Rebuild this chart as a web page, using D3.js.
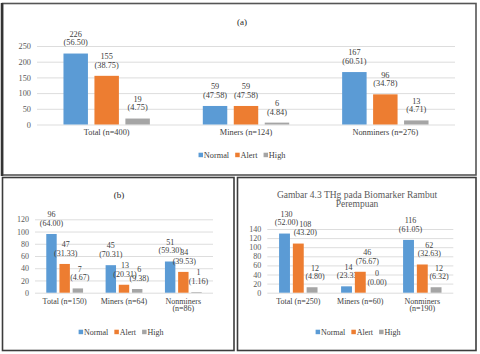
<!DOCTYPE html>
<html>
<head>
<meta charset="utf-8">
<script src="https://cdn.jsdelivr.net/npm/d3@7"></script>
<style>
	body { margin: 0; background: #fff; }
	svg text { font-family: "Liberation Serif", "Times New Roman", serif; }
</style>
</head>
<body>
<div id="chart"></div>
<script>
	// series names and colours
	var seriesNames = ["Normal", "Alert", "High"];
	var seriesColors = ["#5b9bd5", "#ed7d31", "#a5a5a5"];

	// panel (a)
	var categoriesA = ["Total (n=400)", "Miners (n=124)", "Nonminers (n=276)"];
	var normalA = [226, 59, 167];
	var alertA = [155, 59, 96];
	var highA = [19, 6, 13];
	var normalPctA = ["56.50", "47.58", "60.51"];
	var alertPctA = ["38.75", "47.58", "34.78"];
	var highPctA = ["4.75", "4.84", "4.71"];
	var ticksA = [0, 50, 100, 150, 200, 250];

	// panel (b)
	var categoriesB = ["Total (n=150)", "Miners (n=64)", "Nonminers (n=86)"];
	var normalB = [96, 45, 51];
	var alertB = [47, 13, 34];
	var highB = [7, 6, 1];
	var normalPctB = ["64.00", "70.31", "59.30"];
	var alertPctB = ["31.33", "20.31", "39.53"];
	var highPctB = ["4.67", "9.38", "1.16"];
	var ticksB = [0, 20, 40, 60, 80, 100, 120];

	// panel (c)
	var categoriesC = ["Total (n=250)", "Miners (n=60)", "Nonminers (n=190)"];
	var normalC = [130, 14, 116];
	var alertC = [108, 46, 62];
	var highC = [12, 0, 12];
	var normalPctC = ["52.00", "23.33", "61.05"];
	var alertPctC = ["43.20", "76.67", "32.63"];
	var highPctC = ["4.80", "0.00", "6.32"];
	var ticksC = [0, 20, 40, 60, 80, 100, 120, 140];

	var svg = d3.select("#chart").append("svg")
		.attr("width", 480)
		.attr("height", 354);

	// panel frames
	function frame(x, y, w, h, color){
		svg.append("rect")
			.attr("x", x).attr("y", y)
			.attr("width", w).attr("height", h)
			.attr("fill", "none")
			.attr("stroke", color)
			.attr("stroke-width", 1.6);
	}
	frame(2.5, 3.5, 473.5, 171.5, "#555");
	svg.append("line").attr("x1", 2).attr("x2", 2).attr("y1", 3).attr("y2", 176)
		.attr("stroke", "#333").attr("stroke-width", 2.5);
	frame(2.5, 177.5, 231.5, 173, "#3c3c3c");
	frame(237.5, 177.5, 238.5, 173, "#3c3c3c");

	function drawPanel(p){
		var g = svg.append("g");
		var series = [
			{name: seriesNames[0], values: p.normal, pct: p.normalPct},
			{name: seriesNames[1], values: p.alert, pct: p.alertPct},
			{name: seriesNames[2], values: p.high, pct: p.highPct},
		];

		var x = d3.scaleBand().domain(p.categories).range([p.x0, p.x1]);
		var groupW = x.bandwidth() * 0.62;
		var xs = d3.scaleBand().domain(seriesNames)
			.range([(x.bandwidth() - groupW) / 2, (x.bandwidth() + groupW) / 2])
			.paddingInner(0.21);
		var y = d3.scaleLinear().domain([0, d3.max(p.ticks)]).range([p.yBottom, p.yTop]);

		// title
		var title = g.append("text")
			.attr("x", p.titleX)
			.attr("y", p.titleY)
			.attr("text-anchor", "middle")
			.style("font-size", p.titleSize + "px")
			.style("fill", p.titleColor);
		p.title.forEach(function(line, i){
			title.append("tspan").attr("x", p.titleX).attr("dy", i ? "1.0em" : 0).text(line);
		});

		// grid + ticks
		var yAxis = g.append("g")
			.attr("transform", `translate(${p.x0},0)`)
			.call(d3.axisLeft(y).tickValues(p.ticks).tickSize(-(p.x1 - p.x0)).tickPadding(6));
		yAxis.select(".domain").remove();
		yAxis.selectAll("line").attr("stroke", "#d9d9d9").attr("stroke-width", 0.9);
		yAxis.selectAll("text")
			.style("font-family", "Liberation Serif, serif")
			.style("font-size", p.fontSize + "px")
			.style("fill", "#595959");

		// bars + data labels
		series.forEach(function(s, si){
			var rows = p.categories.map((c, i) => ({cat: c, v: s.values[i], pct: s.pct[i]}));
			var cx = d => x(d.cat) + xs(s.name) + xs.bandwidth() / 2 + p.labelDx[si];

			g.append("g").selectAll("rect")
				.data(rows)
				.join("rect")
				.attr("x", d => x(d.cat) + xs(s.name))
				.attr("y", d => y(d.v))
				.attr("width", xs.bandwidth())
				.attr("height", d => y(0) - y(d.v))
				.attr("fill", seriesColors[si]);

			var lbl = g.append("g").selectAll("text")
				.data(rows)
				.join("text")
				.attr("text-anchor", "middle")
				.style("font-size", p.fontSize + "px")
				.style("fill", "#404040");
			lbl.append("tspan")
				.attr("x", cx)
				.attr("y", d => y(d.v) - 19.5 + p.fontSize * 0.35)
				.text(d => d.v);
			lbl.append("tspan")
				.attr("x", cx)
				.attr("y", d => y(d.v) - 11 + p.fontSize * 0.35)
				.text(d => "(" + d.pct + ")");
		});

		// category labels
		var cats = g.append("g").selectAll("text")
			.data(p.categories)
			.join("text")
			.attr("text-anchor", "middle")
			.style("font-size", p.fontSize + "px")
			.style("fill", "#404040");
		cats.each(function(c){
			var lines = (p.wrap && c.length > 15) ? c.replace(" (", "\n(").split("\n") : [c];
			var t = d3.select(this);
			lines.forEach(function(line, i){
				t.append("tspan")
					.attr("x", x(c) + x.bandwidth() / 2)
					.attr("y", p.yBottom + p.catDy + i * 7.5 + p.fontSize * 0.35)
					.text(line);
			});
		});

		// legend
		var leg = g.append("g");
		var lx = 0;
		seriesNames.forEach(function(name, i){
			leg.append("rect")
				.attr("x", lx).attr("y", -2.3)
				.attr("width", 4.5).attr("height", 4.5)
				.attr("fill", seriesColors[i]);
			var t = leg.append("text")
				.attr("x", lx + 5.3)
				.attr("y", p.fontSize * 0.35)
				.style("font-size", p.fontSize + "px")
				.style("fill", "#404040")
				.text(name);
			lx += 5.3 + t.node().getComputedTextLength() + 6;
		});
		lx -= 6;
		leg.attr("transform", `translate(${p.legendX - lx / 2},${p.legendY})`);
	}

	drawPanel({
		categories: categoriesA,
		normal: normalA, alert: alertA, high: highA,
		normalPct: normalPctA, alertPct: alertPctA, highPct: highPctA,
		ticks: ticksA,
		x0: 37, x1: 455, yTop: 46, yBottom: 124.5,
		title: ["(a)"], titleX: 242, titleY: 25, titleSize: 9, titleColor: "#262626",
		fontSize: 8.3, catDy: 7.5, wrap: false, labelDx: [0, 0, 0],
		legendX: 242, legendY: 155,
	});

	drawPanel({
		categories: categoriesB,
		normal: normalB, alert: alertB, high: highB,
		normalPct: normalPctB, alertPct: alertPctB, highPct: highPctB,
		ticks: ticksB,
		x0: 35, x1: 213, yTop: 219.3, yBottom: 292.7,
		title: ["(b)"], titleX: 119, titleY: 198, titleSize: 9, titleColor: "#262626",
		fontSize: 8, catDy: 8.3, wrap: true, labelDx: [0, 1, 2],
		legendX: 121, legendY: 332,
	});

	drawPanel({
		categories: categoriesC,
		normal: normalC, alert: alertC, high: highC,
		normalPct: normalPctC, alertPct: alertPctC, highPct: highPctC,
		ticks: ticksC,
		x0: 267.3, x1: 453.3, yTop: 229, yBottom: 292.7,
		title: ["Gambar 4.3  THg pada Biomarker Rambut", "Perempuan"],
		titleX: 357, titleY: 197.5, titleSize: 9.5, titleColor: "#595959",
		fontSize: 8, catDy: 8.3, wrap: true, labelDx: [2, 7, 3],
		legendX: 358, legendY: 332,
	});
</script>
</body>
</html>
